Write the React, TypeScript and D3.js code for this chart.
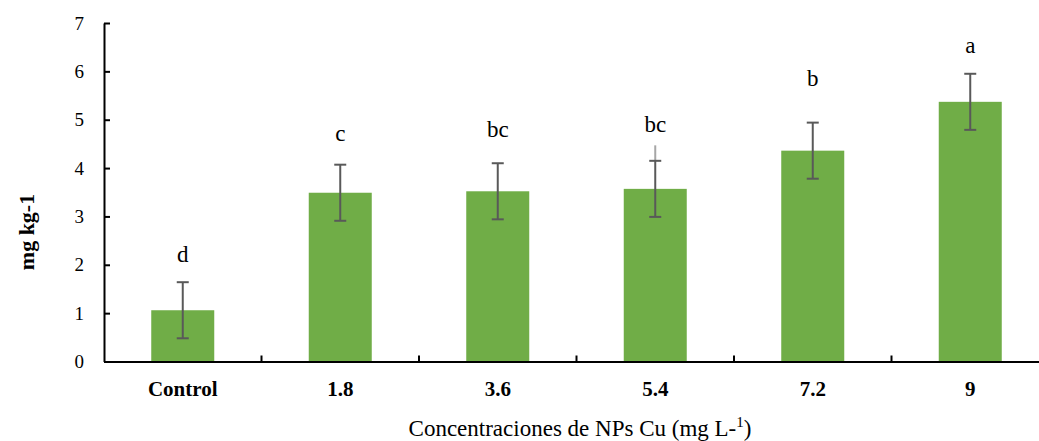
import { useEffect, useRef } from "react"
import { axisLeft, axisBottom, format, scaleBand, scaleLinear, select } from "d3"

const categories = ["Control", "1.8", "3.6", "5.4", "7.2", "9"]
const values = [1.06, 3.49, 3.52, 3.57, 4.36, 5.37]
const errors = [0.58, 0.58, 0.58, 0.58, 0.58, 0.58]
const letters = ["d", "c", "bc", "bc", "b", "a"]
// baseline of each significance letter, in y-axis units
const letterPos = [2.05, 4.57, 4.64, 4.74, 5.69, 6.37]
const yTicks = [0, 1, 2, 3, 4, 5, 6, 7]

const FONT = "'Liberation Serif', 'DejaVu Serif', 'Times New Roman', serif"
const W = 1039
const H = 441
const margin = { top: 23, left: 104, bottom: 80 }
const plotW = 945
const plotH = 338.5

function YAxis({ scale }) {
  const ref = useRef(null)
  useEffect(() => {
    if (ref.current) {
      const g = select(ref.current)
      g.call(axisLeft(scale).tickValues(yTicks).tickFormat(format("d")).tickSizeInner(-6).tickSizeOuter(0).tickPadding(20))
      g.select(".domain").attr("stroke", "#000").attr("stroke-width", 2)
      g.selectAll(".tick line").attr("stroke", "#000").attr("stroke-width", 2)
      g.selectAll(".tick text")
        .attr("font-family", FONT)
        .attr("font-size", "19px")
        .attr("fill", "#000")
    }
  }, [scale])
  return <g ref={ref} />
}

function XAxis({ scale }) {
  const ref = useRef(null)
  useEffect(() => {
    if (ref.current) {
      const g = select(ref.current)
      g.call(axisBottom(scale).tickSize(0).tickPadding(20))
      g.select(".domain").attr("stroke", "#000").attr("stroke-width", 2)
      g.selectAll(".tick text")
        .attr("font-family", FONT)
        .attr("font-size", "21px")
        .attr("font-weight", "700")
        .attr("fill", "#000")
    }
  }, [scale])
  return <g ref={ref} transform={`translate(0, ${plotH})`} />
}

export default function App() {
  const x = scaleBand().domain(categories).range([0, plotW]).paddingInner(0.6).paddingOuter(0.3)
  const xOuter = scaleBand().domain(categories).range([0, plotW])
  const y = scaleLinear().domain([0, 7]).range([plotH, 0])

  return (
    <div style={{ position: "fixed", top: 0, left: 0, background: "#fff" }}>
      <svg width={W} height={H} style={{ display: "block" }}>
        <g transform={`translate(${margin.left}, ${margin.top})`}>
          {categories.map((c, i) => (
            <rect
              key={c}
              x={x(c)}
              y={y(values[i])}
              width={x.bandwidth()}
              height={plotH - y(values[i])}
              fill="#70AD47"
            />
          ))}
          {categories.slice(1).map((c) => (
            <line key={"t" + c} x1={xOuter(c)} x2={xOuter(c)} y1={plotH} y2={plotH - 6} stroke="#000" strokeWidth={2} />
          ))}
          {/* stray whisker on 5.4 bar */}
          <line
            x1={x("5.4") + x.bandwidth() / 2}
            x2={x("5.4") + x.bandwidth() / 2}
            y1={y(values[3] + errors[3])}
            y2={y(4.47)}
            stroke="#a6a6a6"
            strokeWidth={2}
          />
          {categories.map((c, i) => {
            const cx = x(c) + x.bandwidth() / 2
            const hi = y(values[i] + errors[i])
            const lo = y(values[i] - errors[i])
            return (
              <g key={"e" + c} stroke="#595959" strokeWidth={2}>
                <line x1={cx} x2={cx} y1={hi} y2={lo} />
                <line x1={cx - 6} x2={cx + 6} y1={hi} y2={hi} />
                <line x1={cx - 6} x2={cx + 6} y1={lo} y2={lo} />
              </g>
            )
          })}
          {categories.map((c, i) => (
            <text
              key={"l" + c}
              x={x(c) + x.bandwidth() / 2}
              y={y(letterPos[i])}
              textAnchor="middle"
              fontFamily={FONT}
              fontSize="23px"
              fill="#000"
            >
              {letters[i]}
            </text>
          ))}
          <YAxis scale={y} />
          <XAxis scale={xOuter} />
        </g>
        <text
          transform={`translate(34, 232) rotate(-90)`}
          textAnchor="middle"
          fontFamily={FONT}
          fontSize="22px"
          fontWeight="700"
          fill="#000"
        >
          mg kg-1
        </text>
        <text
          x={580}
          y={436}
          textAnchor="middle"
          fontFamily={FONT}
          fontSize="23px"
          fill="#000"
        >
          Concentraciones de NPs Cu (mg L-<tspan dy={-9} fontSize="15px">1</tspan><tspan dy={9}>)</tspan>
        </text>
      </svg>
    </div>
  )
}
